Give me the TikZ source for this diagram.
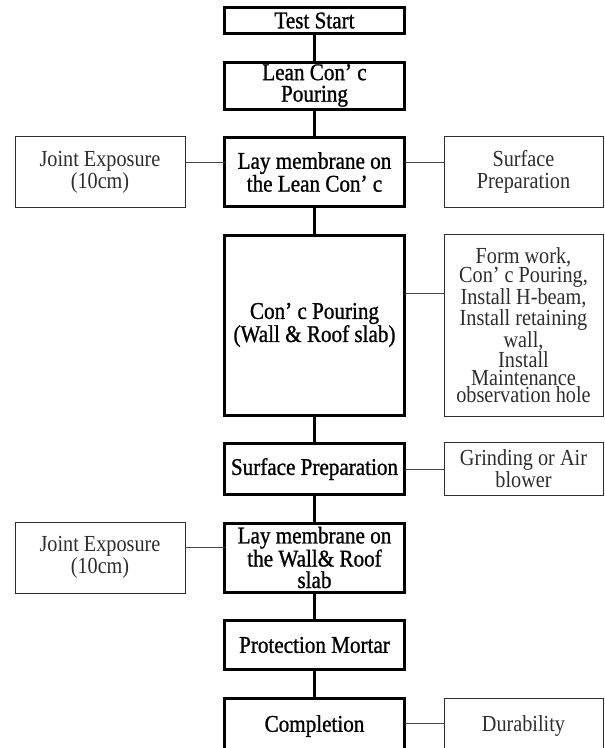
\documentclass[tikz,border=0pt]{standalone}
\usepackage{fontspec}
\setmainfont[FakeStretch=0.88]{Liberation Serif}
\newfontfamily\stepfont[FakeStretch=0.88,FakeBold=1]{Liberation Serif}
\usepackage{xcolor}
\usetikzlibrary{positioning}
\definecolor{sidegray}{RGB}{45,45,45}
\definecolor{linkgray}{RGB}{70,70,70}

\begin{document}
\begin{tikzpicture}[
        node distance=28.5pt and 39.5pt,
        stepbox/.style={draw, line width=3pt, outer sep=0pt, inner sep=1pt, align=center, minimum width=180pt, font=\stepfont\fontsize{24}{21.5}\selectfont},
        sidebox/.style={draw=sidegray, line width=1pt, outer sep=0pt, inner sep=1pt, align=center, text=sidegray, font=\fontsize{23}{19.5}\selectfont},
        lside/.style={sidebox, minimum width=170pt},
        rside/.style={sidebox, minimum width=159pt},
        flow/.style={line width=3pt},
        link/.style={draw=linkgray, line width=1pt}
    ]
    \useasboundingbox (0pt,0pt) rectangle (605pt,-748pt);

    \node[stepbox, minimum height=26pt] (start) at (314.5pt,-20.5pt) {Test Start};
    \node[stepbox, minimum height=47pt, below=of start] (lean) {Lean Con’ c\\Pouring};
    \node[stepbox, minimum height=69pt, below=of lean] (laylean) {Lay membrane on\\the Lean Con’ c};
    \node[stepbox, minimum height=180pt, below=of laylean] (pour) {Con’ c Pouring\\(Wall \& Roof slab)};
    \node[stepbox, minimum height=51pt, below=of pour] (prep) {Surface Preparation};
    \node[stepbox, minimum height=69pt, below=of prep] (laywall) {Lay membrane on\\the Wall\& Roof\\slab};
    \node[stepbox, minimum height=49pt, below=of laywall] (mortar) {Protection Mortar};
    \node[stepbox, minimum height=56pt, below=of mortar] (done) {Completion};

    \node[lside, minimum height=71pt, left=of laylean] (joint1) {Joint Exposure\\(10cm)};
    \node[rside, minimum height=71pt, right=of laylean, font=\fontsize{23}{22.5}\selectfont] (surf) {Surface\\Preparation};
    \node[rside, minimum height=182pt, right=of pour, font=\fontsize{23}{17.5}\selectfont] (work) {Form work,\\Con’ c Pouring,\\Install H-beam,\\Install retaining\\wall,\\Install\\Maintenance\\observation hole};
    \node[rside, minimum height=53pt, right=of prep, font=\fontsize{23}{16}\selectfont] (grind) {Grinding or Air\\blower};
    \node[lside, minimum height=71pt, left=of laywall] (joint2) {Joint Exposure\\(10cm)};
    \node[rside, minimum height=56pt, right=of done] (durable) {Durability};

    \draw[flow] (start) -- (lean);
    \draw[flow] (lean) -- (laylean);
    \draw[flow] (laylean) -- (pour);
    \draw[flow] (pour) -- (prep);
    \draw[flow] (prep) -- (laywall);
    \draw[flow] (laywall) -- (mortar);
    \draw[flow] (mortar) -- (done);
    \draw[link] ([yshift=10pt]joint1.east) -- ([yshift=10pt]laylean.west);
    \draw[link] ([yshift=10pt]laylean.east) -- ([yshift=10pt]surf.west);
    \draw[link] ([yshift=31.5pt]pour.east) -- ([yshift=31.5pt]work.west);
    \draw[link] (prep) -- (grind);
    \draw[link] ([yshift=10pt]joint2.east) -- ([yshift=10pt]laywall.west);
    \draw[link] ([yshift=2.5pt]done.east) -- ([yshift=2.5pt]durable.west);
    \end{tikzpicture}
\end{document}
